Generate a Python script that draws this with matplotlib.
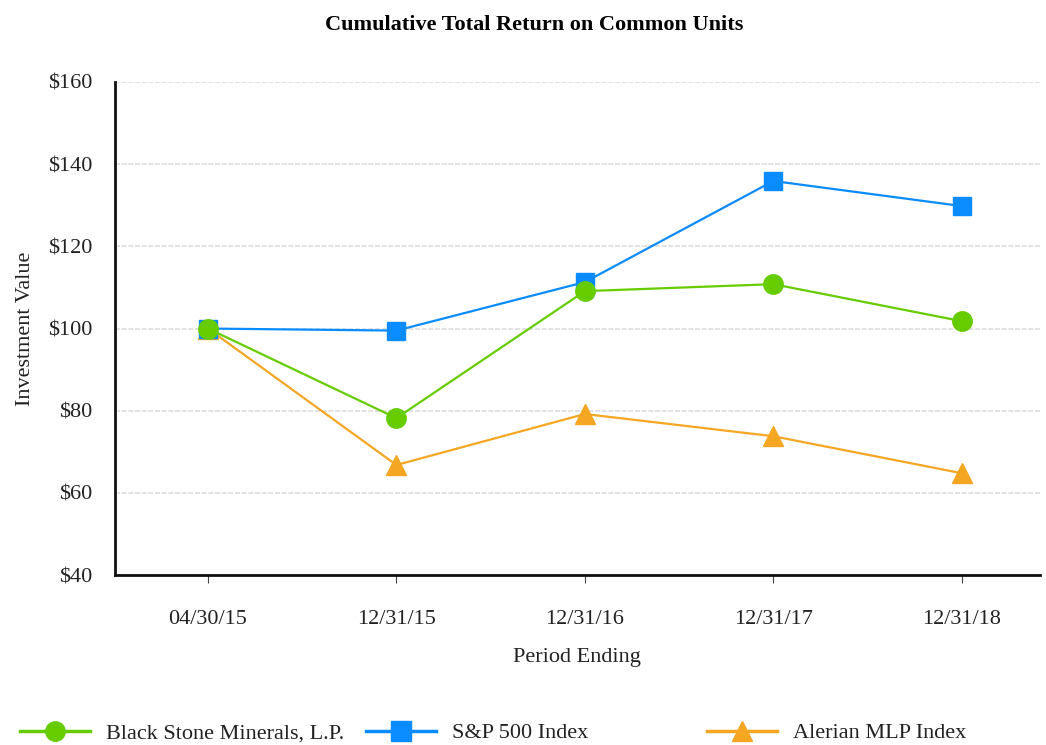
import matplotlib
matplotlib.use("Agg")
import matplotlib.pyplot as plt
from matplotlib.lines import Line2D

plt.rcParams['font.family'] = ['Liberation Serif', 'DejaVu Serif']

periods = ["04/30/15", "12/31/15", "12/31/16", "12/31/17", "12/31/18"]
black_stone = [100.0, 78.2, 109.1, 110.8, 101.8]
sp500 = [100.0, 99.5, 111.3, 135.9, 129.8]
alerian = [100.0, 66.8, 79.2, 73.8, 64.8]
yticks = [40, 60, 80, 100, 120, 140, 160]

green = "#66cc00"
blue = "#0a8cff"
orange = "#f5a623"

fig = plt.figure(figsize=(10.46, 7.45), dpi=100)
ax = fig.add_axes([0.110, 0.228, 0.884, 0.662])

x = list(range(len(periods)))
ax.plot(x, alerian, color=orange, lw=1.6, marker="^", ms=14, zorder=3)
ax.plot(x, sp500, color=blue, lw=1.6, marker="s", ms=13, zorder=4)
ax.plot(x, black_stone, color=green, lw=1.6, marker="o", ms=14, zorder=5)

ax.set_xlim(-0.493, 4.414)
ax.set_ylim(40, 160)
ax.set_yticks(yticks)
ax.set_yticklabels(["$%d" % v for v in yticks])
ax.set_xticks(x)
ax.set_xticklabels(periods)
ax.tick_params(axis="y", length=0, labelsize=16, pad=16.5, labelcolor="#222222")
ax.tick_params(axis="x", length=6, width=0.8, color="#444444", labelsize=16, pad=19,
               labelcolor="#222222")
ax.grid(axis="y", color="#dddddd", lw=1.2, ls=(0, (3, 1)))
ax.set_axisbelow(True)
for s in ["top", "right"]:
    ax.spines[s].set_visible(False)
for s in ["left", "bottom"]:
    ax.spines[s].set_linewidth(2)
    ax.spines[s].set_color("#111111")

ax.set_ylabel("Investment Value", fontsize=16, labelpad=9, color="#222222")
ax.set_xlabel("Period Ending", fontsize=16, labelpad=14, color="#222222")
fig.text(0.511, 0.966, "Cumulative Total Return on Common Units",
         fontsize=16, fontweight="bold", ha="center", va="center")

entries = [
    ("Black Stone Minerals, L.P.", green, "o", 0.019),
    ("S&P 500 Index", blue, "s", 0.350),
    ("Alerian MLP Index", orange, "^", 0.676),
]
for label, c, m, xpos in entries:
    h = Line2D([], [], color=c, lw=2.5, marker=m, ms=14)
    leg = fig.legend(handles=[h], labels=[label], loc="center left",
                     bbox_to_anchor=(xpos, 0.016), frameon=False, fontsize=16,
                     handlelength=3.15, handletextpad=0.72, borderaxespad=0,
                     borderpad=0)
    for t in leg.get_texts():
        t.set_color("#222222")

fig.savefig("out.png", dpi=100)
